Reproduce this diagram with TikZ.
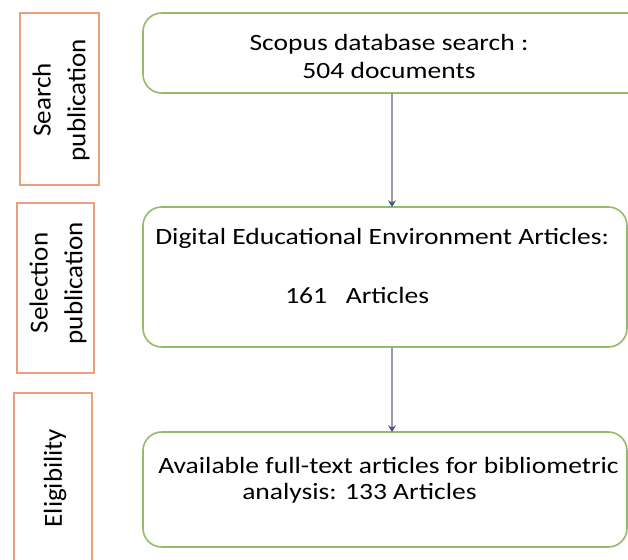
\documentclass[tikz,border=0pt]{standalone}
\usepackage{fontspec}
\setmainfont{Carlito}
\newfontfamily\flowfont{Carlito}[FakeStretch=1.18]
\newfontfamily\stagefont{Carlito}[FakeStretch=1.04]
\usetikzlibrary{arrows.meta}
\definecolor{stageorange}{HTML}{E8A07C}
\definecolor{boxgreen}{HTML}{93BC6A}
\definecolor{arrowgray}{HTML}{9A9AAA}
\definecolor{tipblue}{HTML}{4A5480}
\tikzset{
  stagebox/.style={draw=stageorange, line width=1.3pt, fill=white},
  flowbox/.style={draw=boxgreen, line width=1.2pt, rounded corners=14pt, fill=white},
  stagetext/.style={rotate=90, align=center, font=\stagefont\fontsize{19.5}{26}\selectfont, inner sep=0pt},
  flowtext/.style={font=\flowfont\fontsize{17.5}{21}\selectfont, inner sep=0pt, anchor=west},
  flowarrow/.style={draw=arrowgray, line width=0.9pt, -{Stealth[length=5pt,width=6pt,color=tipblue,fill=tipblue]}}
}
\begin{document}
\begin{tikzpicture}[x=0.75pt,y=-0.75pt]
\useasboundingbox (0,0) rectangle (628,560);
\clip (0,0) rectangle (628,560);
% stage boxes
\draw[stagebox] (20,13) rectangle (99,185);
\draw[stagebox] (17,203) rectangle (94,373);
\draw[stagebox] (14,393) rectangle (92,580);
\node[stagetext] (s1) at (61,100) {Search\\publication};
\node[stagetext] (s2) at (58,283) {Selection\\publication};
\node[stagetext] (s3) at (55,478) {Eligibility};
% flow boxes
\draw[flowbox] (143,13) rectangle (660,93);
\draw[flowbox] (143,207) rectangle (627,347);
\draw[flowbox] (143,432) rectangle (627,547);
\coordinate (b1) at (392,93);
\coordinate (t2) at (392,207);
\coordinate (b2) at (392,347);
\coordinate (t3) at (392,432);
\node[font=\flowfont\fontsize{17.5}{21}\selectfont, align=center, inner sep=0pt] (n1) at (389,56) {Scopus database search :\\504 documents};
\node[flowtext] (n2a) at (155,238) {Digital Educational Environment Articles:};
\node[flowtext] (n2b) at (285,295) {161\ \ \ Articles};
\node[flowtext] (n3a) at (158,465) {Available full-text articles for bibliometric};
\node[flowtext] (n3b) at (242,493) {analysis: 133 Articles};
\draw[flowarrow] (b1) -- (t2);
\draw[flowarrow] (b2) -- (t3);
\end{tikzpicture}
\end{document}
